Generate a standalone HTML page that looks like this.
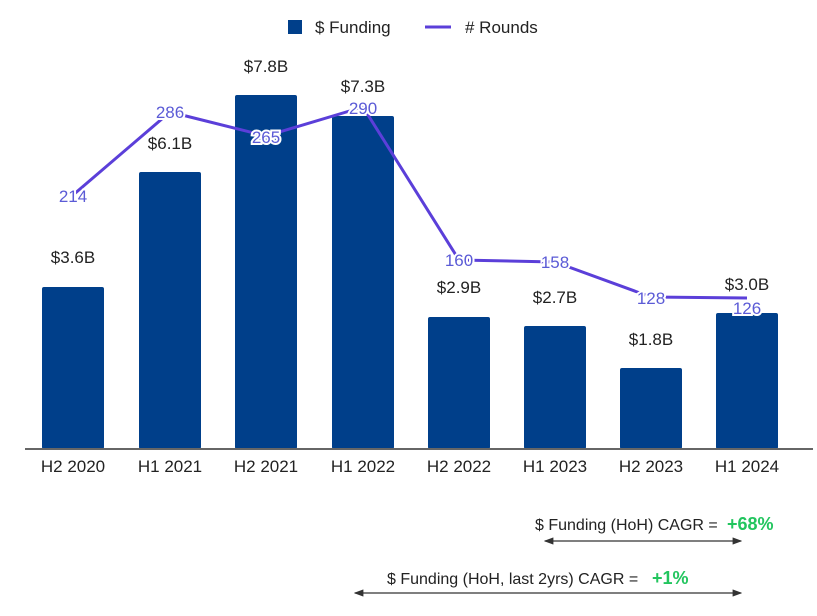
<!DOCTYPE html>
<html><head><meta charset="utf-8"><style>
body{margin:0;background:#fff;}
svg text{font-family:"Liberation Sans",Arial,sans-serif;}
</style></head><body>
<svg width="817" height="611" viewBox="0 0 817 611" xmlns="http://www.w3.org/2000/svg">
<defs>
<marker id="ah" markerWidth="8" markerHeight="6" refX="7" refY="3" orient="auto-start-reverse"><path d="M0,0 L8,3 L0,6 z" fill="#333"/></marker>
</defs>
<!-- legend -->
<rect x="288" y="20" width="14" height="14" fill="#003f8a"/>
<text x="315" y="33" font-size="17" fill="#222">$ Funding</text>
<line x1="425" y1="27" x2="451" y2="27" stroke="#5b3fd9" stroke-width="3"/>
<text x="465" y="33" font-size="17" fill="#222">#  Rounds</text>
<!-- bars -->
<g fill="#003f8a">
<rect x="42" y="287" width="62" height="162" rx="2"/>
<rect x="139" y="172" width="62" height="277" rx="2"/>
<rect x="235" y="95" width="62" height="354" rx="2"/>
<rect x="332" y="116" width="62" height="333" rx="2"/>
<rect x="428" y="317" width="62" height="132" rx="2"/>
<rect x="524" y="326" width="62" height="123" rx="2"/>
<rect x="620" y="368" width="62" height="81" rx="2"/>
<rect x="716" y="313" width="62" height="136" rx="2"/>
</g>
<line x1="25" y1="449" x2="813" y2="449" stroke="#666" stroke-width="2"/>
<!-- bar labels -->
<g font-size="17" fill="#222" text-anchor="middle">
<text x="73" y="263">$3.6B</text>
<text x="170" y="149">$6.1B</text>
<text x="266" y="72">$7.8B</text>
<text x="363" y="92">$7.3B</text>
<text x="459" y="293">$2.9B</text>
<text x="555" y="303">$2.7B</text>
<text x="651" y="345">$1.8B</text>
<text x="747" y="290">$3.0B</text>
</g>
<!-- line -->
<polyline points="73,195 170,112 266,136 363,107 459,260 555,262 651,297 747,298" fill="none" stroke="#5b3fd9" stroke-width="3" stroke-linejoin="round"/>
<g font-size="17" fill="#5b5bd6" text-anchor="middle" stroke="#fff" stroke-width="4" paint-order="stroke">
<text x="73" y="202">214</text>
<text x="170" y="118">286</text>
<text x="266" y="143">265</text>
<text x="363" y="114">290</text>
<text x="459" y="266">160</text>
<text x="555" y="268">158</text>
<text x="651" y="304">128</text>
<text x="747" y="314">126</text>
</g>
<!-- x labels -->
<g font-size="17" fill="#222" text-anchor="middle">
<text x="73" y="472">H2 2020</text>
<text x="170" y="472">H1 2021</text>
<text x="266" y="472">H2 2021</text>
<text x="363" y="472">H1 2022</text>
<text x="459" y="472">H2 2022</text>
<text x="555" y="472">H1 2023</text>
<text x="651" y="472">H2 2023</text>
<text x="747" y="472">H1 2024</text>
</g>
<!-- CAGR -->
<text x="535" y="530" font-size="16" fill="#222">$ Funding (HoH) CAGR = </text>
<text x="727" y="530" font-size="18" font-weight="bold" fill="#22c55e">+68%</text>
<line x1="545" y1="541" x2="741" y2="541" stroke="#333" stroke-width="1.2" marker-start="url(#ah)" marker-end="url(#ah)"/>
<text x="387" y="584" font-size="16" fill="#222">$ Funding (HoH, last 2yrs) CAGR = </text>
<text x="652" y="584" font-size="18" font-weight="bold" fill="#22c55e">+1%</text>
<line x1="355" y1="593" x2="741" y2="593" stroke="#333" stroke-width="1.2" marker-start="url(#ah)" marker-end="url(#ah)"/>
</svg>
</body></html>
